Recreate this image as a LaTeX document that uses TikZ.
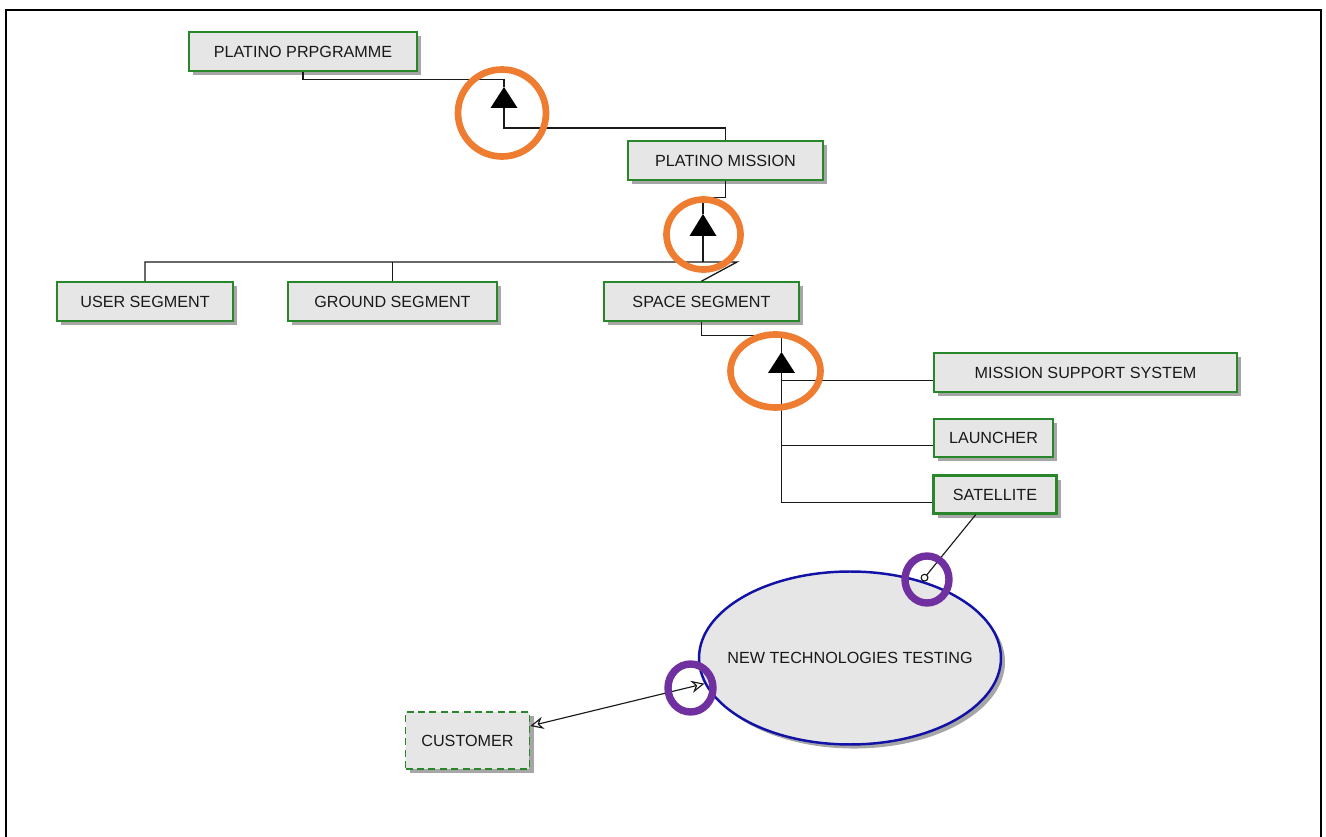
\documentclass[tikz,border=0pt]{standalone}
\usepackage{fontspec}
\setmainfont{Liberation Sans}
\usetikzlibrary{shapes.geometric,shadows,arrows.meta}
\definecolor{boxgreen}{HTML}{2A862A}
\definecolor{caseblue}{HTML}{1212A6}
\definecolor{boxgray}{HTML}{E6E6E6}
\definecolor{ringorange}{HTML}{EE7D31}
\definecolor{ringpurple}{HTML}{7030A0}

\begin{document}
\begin{tikzpicture}[x=0.02cm, y=0.02cm]
\tikzstyle{every node}+=[inner sep=0pt, font=\fontsize{9.2}{11}\selectfont, text=black!90]
\tikzstyle{boxshadow}=[drop shadow={shadow xshift=2.3pt, shadow yshift=-2.3pt, fill=black!35, opacity=1}]
\tikzstyle{block}=[draw=boxgreen, line width=0.9pt, fill=boxgray, minimum height=0.78cm, boxshadow]
\tikzstyle{actor}=[block, dash pattern=on 4pt off 2.5pt]
\tikzstyle{usecase}=[ellipse, draw=caseblue, line width=1.4pt, fill=boxgray, minimum width=6.04cm, minimum height=3.46cm, boxshadow]
\tikzstyle{link}=[black!90, line width=0.75pt]
\tikzstyle{orangering}=[ringorange, line width=3.8pt]
\tikzstyle{purplering}=[ringpurple, line width=4.2pt]
\useasboundingbox (0,0) rectangle (1326,-837);
\draw [line width=1pt] (6,-837) -- (6,-10) -- (1321,-10) -- (1321,-837);
% blocks
\node [block, minimum width=4.56cm] (programme) at (303,-51.5) {PLATINO PRPGRAMME};
\node [block, minimum width=3.9cm] (mission) at (725.5,-160.5) {PLATINO MISSION};
\node [block, minimum width=3.52cm] (user) at (145,-301.5) {USER SEGMENT};
\node [block, minimum width=4.18cm] (ground) at (392.5,-301.5) {GROUND SEGMENT};
\node [block, minimum width=3.9cm] (space) at (701.5,-301.5) {SPACE SEGMENT};
\node [block, minimum width=6.06cm] (support) at (1085.5,-372.5) {MISSION SUPPORT SYSTEM};
\node [block, minimum width=2.38cm, minimum height=0.76cm] (launcher) at (993.5,-438) {LAUNCHER};
\node [block, minimum width=2.46cm, minimum height=0.76cm, line width=1.4pt] (satellite) at (995,-494.5) {SATELLITE};
\node [usecase] (testing) at (850,-658) {\makebox[0pt]{NEW TECHNOLOGIES TESTING}};
\node [actor, minimum width=2.48cm, minimum height=1.14cm] (customer) at (467.5,-740.5) {CUSTOMER};
% generalisation triangles
\coordinate (gen1) at (504,-87);
\coordinate (gen1b) at (504,-108);
\fill [black] (gen1) -- ++(-13.5,-21) -- ++(27,0) -- cycle;
\coordinate (gen2) at (703,-214);
\coordinate (gen2b) at (703,-236);
\fill [black] (gen2) -- ++(-13.5,-22) -- ++(27,0) -- cycle;
\coordinate (gen3) at (781.5,-352);
\coordinate (gen3b) at (781.5,-373);
\fill [black] (gen3) -- ++(-13.5,-21) -- ++(27,0) -- cycle;
% tree lines
\draw [link] (programme.south) -- ++(0,-8) -| (gen1);
\draw [link] (gen1b) -- ++(0,-20) -| (mission.north);
\draw [link] (mission.south) -- ++(0,-17) -| (gen2);
\coordinate (bus) at (703,-262);
\draw [link] (gen2b) -- (bus);
\draw [link] (user.north) |- (bus) -- ++(34,0) -- (space.north);
\draw [link] (ground.north) -- (ground.north |- bus);
\draw [link] (space.south) -- ++(0,-14) -| (gen3);
\draw [link] (gen3b) |- ([yshift=-4.4pt]satellite.west);
\draw [link] ([yshift=-4.4pt]support.west) -| (gen3b);
\draw [link] ([yshift=-4.4pt]launcher.west) -| (gen3b);
% use case links
\draw [link, line width=0.65pt, -{Circle[open, length=4.5pt]}] ([xshift=-11pt]satellite.south) -- (testing.47);
\draw [link, line width=0.65pt, {Stealth[open, length=7.5pt, width=7pt]}-{Stealth[open, length=7.5pt, width=7pt]}] (customer.13) -- (testing.190);
% highlight rings
\draw [orangering] (502,-113) ellipse (44 and 43.5);
\draw [orangering] (703.5,-234.5) ellipse (37 and 35);
\draw [orangering] (775.5,-371) ellipse (45 and 36.5);
\draw [purplering] (927,-579.5) ellipse (22 and 23.5);
\draw [purplering] (690.5,-688) ellipse (22.5 and 24);
\end{tikzpicture}
\end{document}
